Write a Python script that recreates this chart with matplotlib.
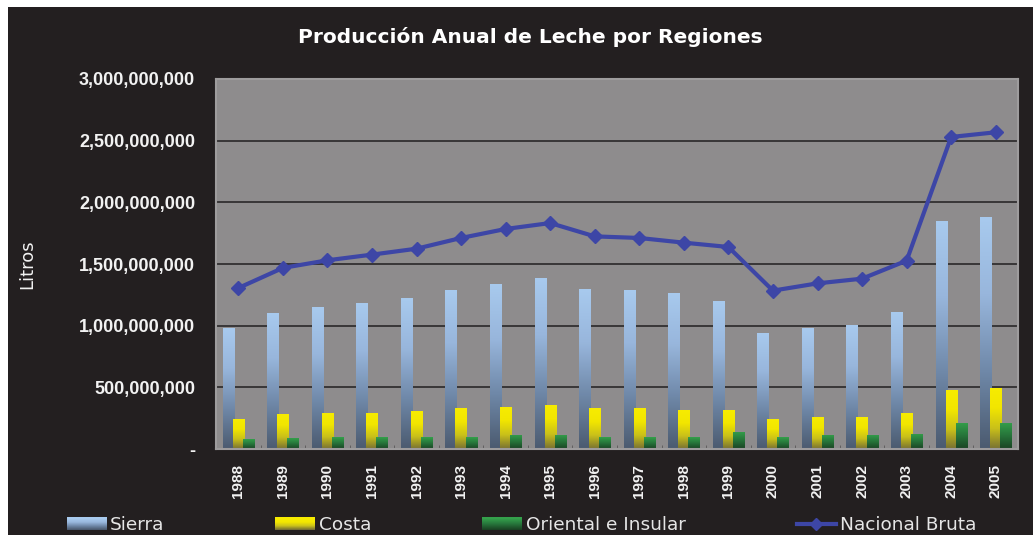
import numpy as np
import matplotlib.pyplot as plt
from matplotlib.patches import Rectangle
from matplotlib.legend_handler import HandlerBase
from matplotlib.lines import Line2D
from matplotlib.colors import LinearSegmentedColormap

# datos (litros)
years = [str(y) for y in range(1988, 2006)]
sierra = [981e6, 1103e6, 1151e6, 1184e6, 1224e6, 1289e6, 1338e6, 1386e6, 1297e6,
          1289e6, 1265e6, 1200e6, 941e6, 981e6, 1005e6, 1111e6, 1849e6, 1881e6]
costa = [243e6, 284e6, 292e6, 292e6, 308e6, 332e6, 341e6, 357e6, 332e6,
         332e6, 316e6, 316e6, 243e6, 259e6, 259e6, 292e6, 478e6, 495e6]
oriental = [81e6, 89e6, 97e6, 97e6, 97e6, 97e6, 114e6, 114e6, 97e6,
            97e6, 97e6, 138e6, 97e6, 114e6, 114e6, 122e6, 211e6, 211e6]
nacional = [1305e6, 1468e6, 1530e6, 1576e6, 1624e6, 1711e6, 1784e6, 1832e6, 1724e6,
            1711e6, 1673e6, 1638e6, 1284e6, 1343e6, 1381e6, 1527e6, 2530e6, 2568e6]

# degradados (abajo -> arriba)
cm_sierra = LinearSegmentedColormap.from_list("s", ["#4B5A6F", "#6F88A8", "#98B6DC", "#A8CAEE"])
cm_costa = LinearSegmentedColormap.from_list("c", ["#777033", "#C9C01A", "#F2E600", "#F7EC00"])
cm_orient = LinearSegmentedColormap.from_list("o", ["#1A4223", "#26743A", "#34A04B"])

BG = "#231F20"
TXT = "#F2F2F2"

fig = plt.figure(figsize=(10.33, 5.35), dpi=100, facecolor="white")
fig.patches.append(Rectangle((8 / 1033, 0), 1, 1 - 7 / 535, transform=fig.transFigure,
                             facecolor=BG, edgecolor="none", zorder=-10))
ax = fig.add_axes([216 / 1033, 86 / 535, 802 / 1033, 370 / 535])
ax.set_facecolor("#8E8C8D")

x = np.arange(len(years))
w = 0.25
grad = np.linspace(0, 1, 256).reshape(-1, 1)

def gradient_bars(xpos, vals, cmap):
    bars = ax.bar(xpos, vals, w, facecolor="none", edgecolor="none", zorder=2)
    for b in bars:
        x0, y0 = b.get_x(), b.get_y()
        im = ax.imshow(grad, cmap=cmap, origin="lower", aspect="auto", zorder=2,
                       extent=[x0, x0 + b.get_width(), y0, y0 + b.get_height()])
        im.set_clip_path(b)
    return bars

gradient_bars(x - 0.225, sierra, cm_sierra)
gradient_bars(x, costa, cm_costa)
gradient_bars(x + 0.225, oriental, cm_orient)

ax.plot(x, nacional, color="#3D46A6", lw=3, marker="D", ms=7, zorder=4)

ax.set_xlim(-0.5, len(years) - 0.5)
ax.set_ylim(0, 3e9)
ax.set_yticks(np.arange(0, 3.01e9, 5e8))
ax.yaxis.set_major_formatter(lambda v, p: "-" if v == 0 else f"{int(v):,}")
ax.grid(axis="y", color="#2A2829", lw=1.2, zorder=1)
ax.set_axisbelow(True)

ax.set_xticks(x)
ax.set_xticklabels(years, rotation=90)
ax.set_xticks(np.arange(-0.5, len(years)), minor=True)
ax.tick_params(axis="x", which="major", length=0, pad=11, colors=TXT, labelsize=11)
ax.tick_params(axis="x", which="minor", length=3, color="#5A5859", direction="in")
ax.tick_params(axis="y", length=0, pad=15, colors=TXT, labelsize=13)
for lab in ax.get_xticklabels() + ax.get_yticklabels():
    lab.set_fontfamily("Liberation Sans")
    lab.set_fontweight("bold")
for s in ax.spines.values():
    s.set_color("#9E9C9D")
    s.set_linewidth(1.5)

ax.set_ylabel("Litros", color=TXT, fontsize=13, fontfamily="DejaVu Sans")
ax.yaxis.set_label_coords(-0.2245, 0.5)
fig.text(0.513, 0.931, "Producción Anual de Leche por Regiones", ha="center", va="center",
         color="white", fontsize=14.5, fontweight="bold", fontfamily="DejaVu Sans")

class GradHandler(HandlerBase):
    def __init__(self, cmap):
        super().__init__()
        self.cmap = cmap

    def create_artists(self, legend, orig, xd, yd, width, height, fontsize, trans):
        n = 12
        arts = []
        for i in range(n):
            r = Rectangle((xd, yd + height * i / n), width, height / n + 0.3,
                          facecolor=self.cmap(i / (n - 1)), edgecolor="none", transform=trans)
            arts.append(r)
        return arts

class _H:
    pass

hs, hc, ho = _H(), _H(), _H()
h_n = Line2D([], [], color="#3D46A6", lw=3, marker="D", ms=6)
leg = fig.legend([hs, hc, ho, h_n], ["Sierra", "Costa", "Oriental e Insular", "Nacional Bruta"],
                 handler_map={hs: GradHandler(cm_sierra), hc: GradHandler(cm_costa),
                              ho: GradHandler(cm_orient)},
                 loc="lower left", bbox_to_anchor=(50 / 1033, -0.03), ncol=4, frameon=False,
                 handlelength=2.16, handletextpad=0.2, columnspacing=6.0,
                 prop={"family": "DejaVu Sans", "size": 13.3})
for t in leg.get_texts():
    t.set_color("#E6E6E6")

fig.savefig("out.png", dpi=100, facecolor=fig.get_facecolor())
